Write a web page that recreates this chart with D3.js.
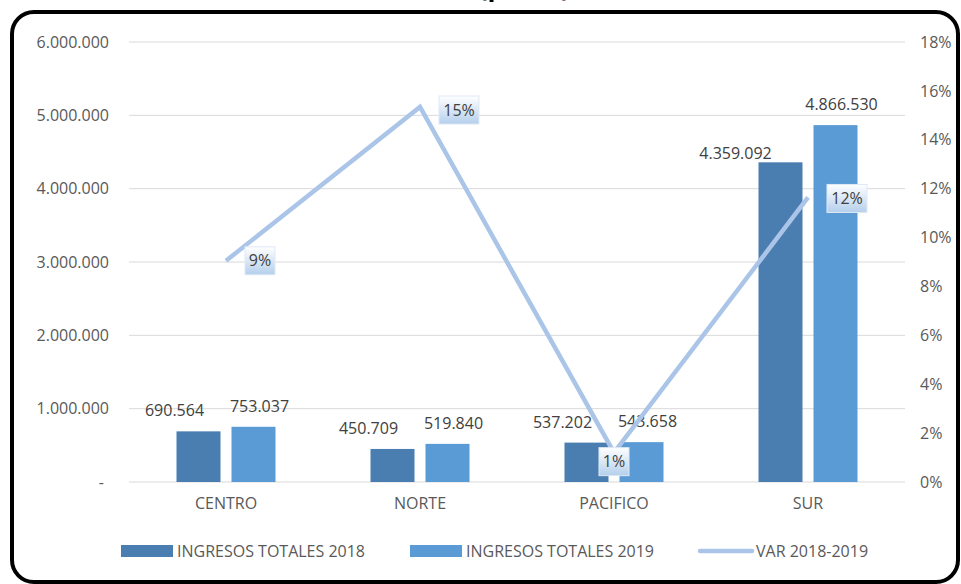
<!DOCTYPE html>
<html><head><meta charset="utf-8">
<script src="https://cdn.jsdelivr.net/npm/d3@7/dist/d3.min.js"></script>
<style>
html,body{margin:0;padding:0;background:#fff;}
svg{display:block;font-family:"Open Sans",sans-serif;}
</style></head>
<body><svg id="c" width="961" height="584"></svg>
<script>
const categories = ["CENTRO","NORTE","PACIFICO","SUR"];
const ingresos2018 = [690564, 450709, 537202, 4359092];
const ingresos2019 = [753037, 519840, 543658, 4866530];
const variacion = [9.05, 15.34, 1.20, 11.64];
const varLabels = ["9%","15%","1%","12%"];
const seriesNames = ["INGRESOS TOTALES 2018","INGRESOS TOTALES 2019","VAR 2018-2019"];
const leftTicks = [0,1000000,2000000,3000000,4000000,5000000,6000000];
const rightTicks = [0,2,4,6,8,10,12,14,16,18];
const title = "INGRESOS TOTALES POR ZONA (pesos)";

const svg = d3.select("#c");
const colors = {a:"#4a7eb0", b:"#5b9bd5", line:"#abc5e8", grid:"#d9d9d9", txt:"#595959", lbl:"#404040"};
const fmt = v => d3.format(",")(v).replace(/,/g,".");

// title (clipped at top, only descenders visible as in the reference)
svg.append("text").attr("x",570).attr("y",-4).attr("text-anchor","end")
  .attr("font-size",26).attr("font-weight","bold").attr("fill","#000").text(title);

// frame
svg.append("rect").attr("x",12).attr("y",12).attr("width",946).attr("height",570)
  .attr("rx",22).attr("fill","none").attr("stroke","#000").attr("stroke-width",4);

const L=129, R=905, T=42, B=482;
const x0 = d3.scaleBand().domain(categories).range([L,R]).padding(0);
const x1 = d3.scaleBand().domain([0,1]).range([0,99]).paddingInner(0.2);
const off = (x0.bandwidth()-99)/2;
const y = d3.scaleLinear().domain([0,6000000]).range([B,T]);
const y2 = d3.scaleLinear().domain([0,18]).range([B,T]);

// grid
svg.append("g").selectAll("line").data(leftTicks).join("line")
  .attr("x1",L).attr("x2",R).attr("y1",d=>y(d)).attr("y2",d=>y(d))
  .attr("stroke",colors.grid).attr("stroke-width",1);

// left axis labels
const yAxis = d3.axisLeft(y).tickValues(leftTicks).tickSize(0).tickPadding(0)
  .tickFormat(d => d===0 ? "-" : fmt(d));
const gy = svg.append("g").attr("transform","translate(109,0)").call(yAxis);
gy.select(".domain").remove();
gy.selectAll("text").attr("fill",colors.txt).attr("font-size",16).attr("font-family","'Open Sans',sans-serif");
gy.selectAll(".tick").filter(d=>d===0).select("text").attr("dx",-5);

// right axis labels
const y2Axis = d3.axisRight(y2).tickValues(rightTicks).tickSize(0).tickPadding(0).tickFormat(d=>d+"%");
const gy2 = svg.append("g").attr("transform","translate(920,0)").call(y2Axis);
gy2.select(".domain").remove();
gy2.selectAll("text").attr("fill",colors.txt).attr("font-size",16).attr("font-family","'Open Sans',sans-serif");

// x axis labels
const xAxis = d3.axisBottom(x0).tickSize(0).tickPadding(0);
const gx = svg.append("g").attr("transform",`translate(0,${B+16})`).call(xAxis);
gx.select(".domain").remove();
gx.selectAll("text").attr("fill",colors.txt).attr("font-size",16).attr("font-family","'Open Sans',sans-serif");

// bars
const rows = categories.map((c,i)=>({c, v:[ingresos2018[i], ingresos2019[i]]}));
const groups = svg.append("g").selectAll("g").data(rows).join("g")
  .attr("transform",d=>`translate(${x0(d.c)+off},0)`);
groups.selectAll("rect").data(d=>d.v.map((v,k)=>({v,k}))).join("rect")
  .attr("x",d=>x1(d.k)).attr("width",x1.bandwidth())
  .attr("y",d=>y(d.v)).attr("height",d=>B-y(d.v))
  .attr("fill",d=>d.k===0?colors.a:colors.b);
const big = d => d.k===0 && d.v>3000000;
groups.selectAll("text").data(d=>d.v.map((v,k)=>({v,k,c:d.c}))).join("text")
  .attr("x",d=>x1(d.k)+x1.bandwidth()/2 + (d.k===0 ? (big(d)?-45:-24) : 6))
  .attr("y",d=>y(d.v) - (big(d) ? 3 : 15))
  .attr("text-anchor","middle").attr("font-size",16).attr("fill",colors.lbl)
  .text(d=>fmt(d.v));

// gradient for line labels
const defs = svg.append("defs");
const gr = defs.append("linearGradient").attr("id","lg").attr("x1",0).attr("y1",0).attr("x2",0).attr("y2",1);
gr.append("stop").attr("offset","0%").attr("stop-color","#ffffff");
gr.append("stop").attr("offset","100%").attr("stop-color","#b4cfec");

// line
const cx = c => x0(c)+x0.bandwidth()/2;
const line = d3.line().x((d,i)=>cx(categories[i])).y(d=>y2(d));
svg.append("path").datum(variacion).attr("d",line).attr("fill","none")
  .attr("stroke",colors.line).attr("stroke-width",4.5).attr("stroke-linejoin","miter");

// line labels
const lblPos = [{dx:34,dy:0},{dx:39,dy:3},{dx:0,dy:9},{dx:39,dy:1}];
const lg = svg.append("g").selectAll("g").data(variacion).join("g")
  .attr("transform",(d,i)=>`translate(${cx(categories[i])+lblPos[i].dx},${y2(d)+lblPos[i].dy})`);
lg.append("rect").attr("x",(d,i)=>-(varLabels[i].length*10+10)/2).attr("y",-14)
  .attr("width",(d,i)=>varLabels[i].length*10+10).attr("height",28)
  .attr("fill","url(#lg)").attr("stroke","#dfe9f5").attr("stroke-width",1);
lg.append("text").attr("text-anchor","middle").attr("dy","0.35em")
  .attr("font-size",16).attr("fill",colors.lbl).text((d,i)=>varLabels[i]);

// legend
const leg = [{x:121,t:"rect",c:colors.a},{x:410,t:"rect",c:colors.b},{x:700,t:"line",c:colors.line}];
const lgG = svg.append("g").selectAll("g").data(leg).join("g").attr("transform",d=>`translate(${d.x},551)`);
lgG.filter(d=>d.t==="rect").append("rect").attr("x",0).attr("y",-6).attr("width",52).attr("height",12).attr("fill",d=>d.c);
lgG.filter(d=>d.t==="line").append("line").attr("x1",0).attr("x2",52).attr("y1",0).attr("y2",0)
  .attr("stroke",d=>d.c).attr("stroke-width",4.5).attr("stroke-linecap","round");
lgG.append("text").attr("x",56).attr("dy","0.35em").attr("font-size",16).attr("fill",colors.txt)
  .text((d,i)=>seriesNames[i]);
</script></body></html>
